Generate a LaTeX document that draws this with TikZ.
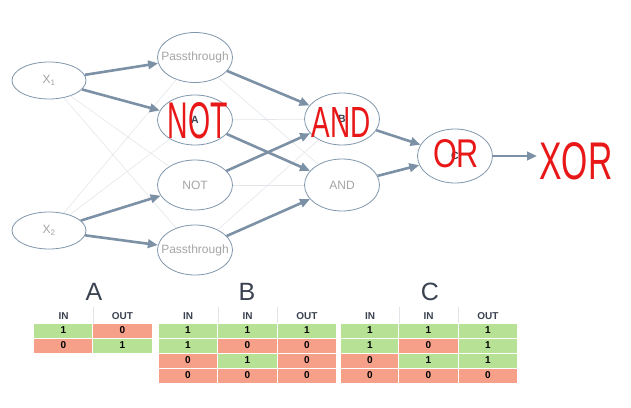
\documentclass[tikz,border=0pt]{standalone}
\usepackage{fontspec}
\usepackage{graphicx}
\setmainfont{Liberation Sans}
\usetikzlibrary{shapes.geometric,arrows.meta}

\definecolor{edge}{RGB}{124,145,166}
\definecolor{rim}{RGB}{128,150,172}
\definecolor{faint}{RGB}{226,230,234}
\definecolor{lbl}{RGB}{165,165,165}
\definecolor{ink}{RGB}{58,66,80}
\definecolor{hand}{RGB}{232,24,24}
\definecolor{tgreen}{RGB}{183,226,150}
\definecolor{tred}{RGB}{246,160,138}

\tikzset{
  neuron/.style={ellipse, draw=rim, fill=white, line width=0.8pt, inner sep=0pt,
    minimum width=75pt, minimum height=50pt, text=lbl, font=\fontsize{12}{14}\selectfont},
  inputn/.style={neuron, minimum width=74pt, minimum height=37pt},
  gate/.style={neuron, text=ink, font=\fontsize{10.5}{12}\selectfont\bfseries},
  link/.style={draw=edge, line width=2.6pt, -{Triangle[length=10pt,width=8.5pt]}},
  weak/.style={draw=faint, line width=0.6pt},
  hand/.style={text=hand, inner sep=0pt, font=\fontsize{10}{12}\selectfont},
  title/.style={text=ink, font=\fontsize{25}{28}\selectfont},
  head/.style={text=ink, font=\fontsize{10}{11}\selectfont\bfseries},
  cell/.style={draw=white, line width=0.7pt, minimum width=59.5pt, minimum height=15pt,
    inner sep=0pt, font=\fontsize{10}{11}\selectfont\bfseries},
  cell1/.style={cell, fill=tgreen},
  cell0/.style={cell, fill=tred},
  sep/.style={draw=faint, line width=0.8pt}
}

\begin{document}
\begin{tikzpicture}[x=1pt,y=-1pt]
    \useasboundingbox (0,0) rectangle (631,407);

    \coordinate (px1) at (49,80.5);
    \coordinate (px2) at (49,230.5);

    % network
    \node[inputn] (x1) at (px1) {\makebox[0pt]{X\textsubscript{1}}};
    \node[inputn] (x2) at (px2) {\makebox[0pt]{X\textsubscript{2}}};

    \node[neuron] (pt) at (195,57.5) {\makebox[0pt]{Passthrough}};
    \node[gate] (na) at (195,120) {\makebox[0pt]{A}};
    \node[neuron] (nn) at (195,185) {\makebox[0pt]{NOT}};
    \node[neuron] (pb) at (195,250) {\makebox[0pt]{Passthrough}};

    \node[gate, minimum height=52pt] (nb) at (342,119) {\makebox[0pt]{B}};
    \node[neuron, minimum height=52pt] (nd) at (342,185) {\makebox[0pt]{AND}};

    \node[gate, minimum height=54pt] (nc) at (455,156) {\makebox[0pt]{C}};
    \coordinate (out) at (537,156);

    \draw[weak] (x1) -- (nn);
    \draw[weak] (x1) -- (pb);
    \draw[weak] (x2) -- (pt);
    \draw[weak] (x2) -- (na);
    \draw[weak] (pt) -- (nd);
    \draw[weak] (na) -- (nb);
    \draw[weak] (nn) -- (nd);
    \draw[weak] (pb) -- (nb);

    \draw[link] (x1) -- (pt);
    \draw[link] (x1) -- (na);
    \draw[link] (x2) -- (nn);
    \draw[link] (x2) -- (pb);

    \draw[link] (pt) -- (nb);
    \draw[link] (na) -- (nd);
    \draw[link] (nn) -- (nb);
    \draw[link] (pb) -- (nd);

    \draw[link] (nb) -- (nc);
    \draw[link] (nd) -- (nc);
    \draw[link] (nc) -- (out);

    % handwritten notes
    \node[hand] (wa) at (198,121) {\resizebox{60pt}{36pt}{NOT}};
    \node[hand] (wb) at (341,122) {\resizebox{59pt}{30pt}{AND}};
    \node[hand] (wc) at (456,154) {\resizebox{46pt}{28pt}{OR}};
    \node[hand] (wx) at (576,161) {\resizebox{73pt}{37pt}{XOR}};

    % truth tables
    \node[title] (ta) at (94,292) {A};
    \node[title] (tb) at (247,292) {B};
    \node[title] (tc) at (430,292) {C};

    \node[head] (ah1) at (63.5,316) {IN};
    \node[head] (ah2) at (122.5,316) {OUT};
    \draw[sep] (93,307) -- (93,323);
    \foreach \y/\p/\q [count=\k] in {330.5/1/0, 345.5/0/1} {
        \node[cell\p] (a\k1) at (63.5,\y) {\p};
        \node[cell\q] (a\k2) at (122.5,\y) {\q};
    }

    \node[head] (bh1) at (188,316) {IN};
    \node[head] (bh2) at (247.5,316) {IN};
    \node[head] (bh3) at (307,316) {OUT};
    \draw[sep] (218,307) -- (218,323);
    \draw[sep] (277,307) -- (277,323);
    \foreach \y/\p/\q/\r [count=\k] in {330.5/1/1/1, 345.5/1/0/0, 360.5/0/1/0, 375.5/0/0/0} {
        \node[cell\p] (b\k1) at (188,\y) {\p};
        \node[cell\q] (b\k2) at (247.5,\y) {\q};
        \node[cell\r] (b\k3) at (307,\y) {\r};
    }

    \node[head] (ch1) at (370,316) {IN};
    \node[head] (ch2) at (428.5,316) {IN};
    \node[head] (ch3) at (488,316) {OUT};
    \draw[sep] (399,307) -- (399,323);
    \draw[sep] (458,307) -- (458,323);
    \foreach \y/\p/\q/\r [count=\k] in {330.5/1/1/1, 345.5/1/0/1, 360.5/0/1/1, 375.5/0/0/0} {
        \node[cell\p] (c\k1) at (370,\y) {\p};
        \node[cell\q] (c\k2) at (428.5,\y) {\q};
        \node[cell\r] (c\k3) at (488,\y) {\r};
    }

\end{tikzpicture}
\end{document}
